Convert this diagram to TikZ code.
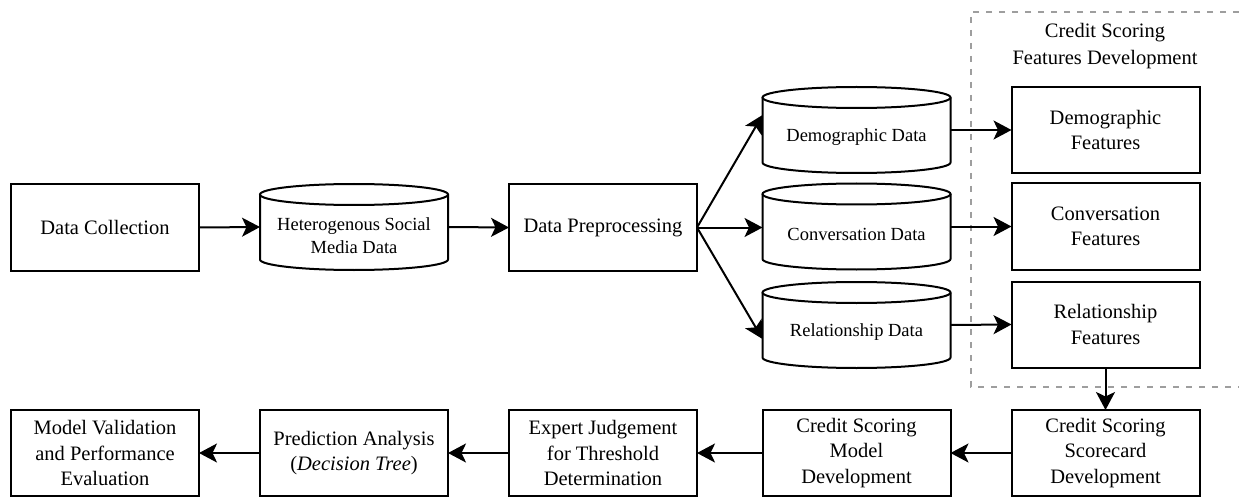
\documentclass[tikz,border=0pt]{standalone}
\usepackage{fontspec}
\setmainfont{Liberation Serif}
\usetikzlibrary{arrows.meta,calc}
\newcommand\boxfont{\fontsize{20.5}{25.5}\selectfont}
\newcommand\cylfont{\fontsize{18.5}{22.5}\selectfont}
\newcommand\grpfont{\fontsize{20.5}{27}\selectfont}
\begin{document}
\begin{tikzpicture}[x=1pt,y=-1pt,
  every node/.style={inner sep=0pt, outer sep=0pt},
  proc/.style={draw, line width=2pt, minimum width=188pt, minimum height=86pt, align=center, font=\boxfont},
  cylbody/.style={minimum width=188pt, minimum height=86pt},
  cyllabel/.style={align=center, font=\cylfont},
  cylline/.style={line width=2pt},
  conn/.style={line width=2pt, -{Stealth[length=18pt,width=19pt,inset=4.5pt]}},
  grp/.style={draw=black!38, line width=1.6pt, dash pattern=on 6pt off 7pt}
]
\useasboundingbox (0,0) rectangle (1239,497);

% group frame
\coordinate (gA) at (1239,12);
\coordinate (gB) at (971,12);
\coordinate (gC) at (971,387);
\coordinate (gD) at (1239,387);
\draw[grp] (gA) -- (gB) -- (gC) -- (gD);
\node[align=center, font=\grpfont] (grptitle) at (1105,46) {Credit Scoring\\Features Development};

% top row
\node[proc] (dc) at (105,227.5) {Data Collection};
\node[cylbody] (hsm) at (354,227) {};
\node[proc] (pre) at (603,227.5) {Data Preprocessing};

% data cylinders
\node[cylbody] (dem) at (856.5,130) {};
\node[cylbody] (conv) at (856.5,226.5) {};
\node[cylbody] (rel) at (856.5,325) {};

\foreach \n in {hsm,dem,conv,rel}{
  \draw[cylline] ($(\n.north west)+(0,10.5)$) -- ($(\n.south west)+(0,-10.5)$)
     arc[start angle=180,end angle=360,x radius=94pt,y radius=10.5pt]
     -- ($(\n.north east)+(0,10.5)$);
  \draw[cylline] ($(\n.north)+(0,10.5)$) ellipse[x radius=94pt, y radius=10.5pt];
}
\node[cyllabel] (hsmt) at ($(hsm.center)+(0,8.5)$) {Heterogenous Social\\Media Data};
\node[cyllabel] (demt) at ($(dem.center)+(0,7.5)$) {Demographic Data};
\node[cyllabel] (convt) at ($(conv.center)+(0,8)$) {Conversation Data};
\node[cyllabel] (relt) at ($(rel.center)+(0,7.5)$) {Relationship Data};

% feature boxes
\node[proc] (demf) at (1105.5,130) {Demographic\\Features};
\node[proc] (convf) at (1105.5,226.5) {Conversation\\Features};
\node[proc] (relf) at (1105.5,324.5) {Relationship\\Features};

% bottom row
\node[proc] (mv) at (105,453) {Model Validation\\and Performance\\Evaluation};
\node[proc] (pa) at (354,453) {Prediction Analysis\\(\textit{Decision Tree})};
\node[proc] (ej) at (603,453) {Expert Judgement\\for Threshold\\Determination};
\node[proc] (md) at (856.5,453) {Credit Scoring\\Model\\Development};
\node[proc] (sc) at (1105.5,453) {Credit Scoring\\Scorecard\\Development};

% connectors
\draw[conn] (dc.east) -- (hsm.west);
\draw[conn] (hsm.east) -- (pre.west);
\draw[conn] (pre.east) -- ($(dem.west)+(0,-15)$);
\draw[conn] (pre.east) -- (pre.east -| conv.west);
\draw[conn] (pre.east) -- ($(rel.west)+(0,14)$);
\draw[conn] (dem.east) -- (demf.west);
\draw[conn] (conv.east) -- (convf.west);
\draw[conn] (rel.east) -- (relf.west);
\draw[conn] (relf.south) -- (sc.north);
\draw[conn] (sc.west) -- (md.east);
\draw[conn] (md.west) -- (ej.east);
\draw[conn] (ej.west) -- (pa.east);
\draw[conn] (pa.west) -- (mv.east);
\end{tikzpicture}
\end{document}
